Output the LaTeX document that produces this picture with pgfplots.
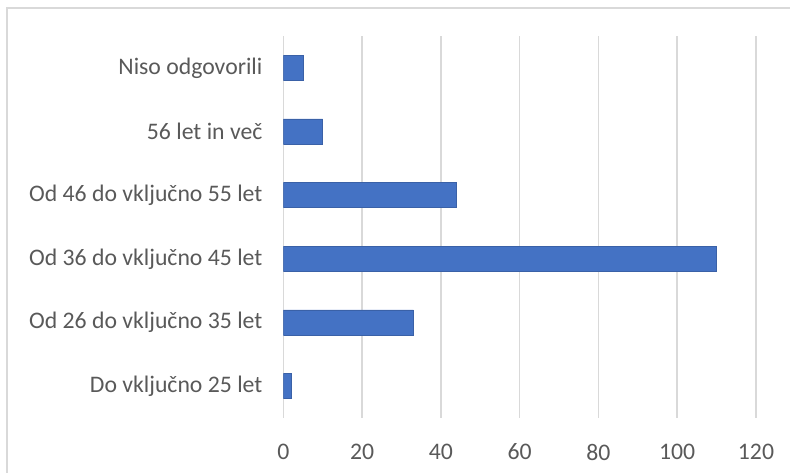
\documentclass[border=0pt]{standalone}
\usepackage{pgfplots}
\pgfplotsset{compat=1.18}
\usepackage{fontspec}
\setmainfont{Carlito}
\definecolor{barblue}{HTML}{4472C4}
\definecolor{labelgray}{HTML}{595959}
\definecolor{gridgray}{HTML}{D9D9D9}
\begin{document}
\begin{tikzpicture}[x=1pt,y=1pt]
% page frame (1px = 0.75pt)
\path[use as bounding box] (-212.5,-41.25) rectangle (380,313.5);
\draw[gridgray, line width=1.2pt] (-207.2,307.5) rectangle (390,-60);
\begin{axis}[
  at={(0,0)}, anchor=south west,
  scale only axis,
  width=354.5pt, height=286.5pt,
  xbar, bar width=18.75pt,
  xmin=0, xmax=120,
  ymin=-0.5, ymax=5.5,
  xtick={0,20,...,120},
  ytick={0,...,5},
  yticklabels={Do vključno 25 let, Od 26 do vključno 35 let, Od 36 do vključno 45 let, Od 46 do vključno 55 let, 56 let in več, Niso odgovorili},
  axis line style={draw=none},
  major tick length=0pt,
  xmajorgrids,
  grid style={gridgray, line width=1.1pt},
  tick label style={font=\fontsize{17.8}{21}\selectfont, text=labelgray},
  /pgf/number format/assume math mode=true,
  yticklabel style={anchor=east, inner sep=0pt, xshift=-15.5pt},
  xticklabel style={anchor=center, inner sep=0pt, yshift=-25.5pt},
]
\addplot[fill=barblue, draw=barblue!85!black, line width=0.5pt]
  coordinates {(2,0) (33,1) (110,2) (44,3) (10,4) (5,5)};
\end{axis}
\end{tikzpicture}
\end{document}
